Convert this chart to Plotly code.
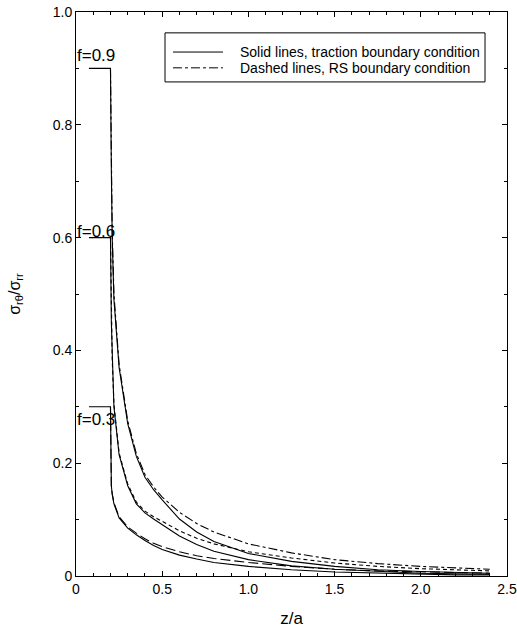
import plotly.graph_objects as go

# ---- data ----
x_common = [0.2, 0.205, 0.21, 0.22, 0.25, 0.3, 0.35, 0.4, 0.45, 0.5, 0.6, 0.7, 0.8,
            1.0, 1.25, 1.5, 1.75, 2.0, 2.2, 2.4]

f09_traction = [0.9, 0.72, 0.6, 0.49, 0.37, 0.27, 0.212, 0.175, 0.153, 0.135, 0.101, 0.078, 0.061,
                0.040, 0.026, 0.017, 0.011, 0.008, 0.006, 0.005]
f09_rs = [0.9, 0.72, 0.61, 0.5, 0.375, 0.275, 0.217, 0.18, 0.158, 0.140, 0.113, 0.093, 0.078,
          0.057, 0.041, 0.029, 0.022, 0.017, 0.014, 0.012]

f06_traction = [0.6, 0.45, 0.38, 0.3, 0.215, 0.16, 0.128, 0.112, 0.101, 0.091, 0.071, 0.056, 0.044,
                0.029, 0.018, 0.012, 0.008, 0.005, 0.004, 0.003]
f06_rs = [0.6, 0.45, 0.385, 0.305, 0.218, 0.163, 0.131, 0.115, 0.105, 0.097, 0.080, 0.067, 0.057,
          0.043, 0.032, 0.023, 0.017, 0.013, 0.011, 0.009]

f03_traction = [0.3, 0.16, 0.145, 0.128, 0.103, 0.085, 0.073, 0.063, 0.054, 0.047, 0.037, 0.030, 0.024,
                0.017, 0.011, 0.007, 0.005, 0.003, 0.002, 0.002]
f03_rs = [0.3, 0.16, 0.146, 0.13, 0.105, 0.087, 0.076, 0.066, 0.058, 0.052, 0.043, 0.036, 0.031,
          0.024, 0.017, 0.012, 0.009, 0.007, 0.006, 0.005]

f_values = [0.9, 0.6, 0.3]
f_labels = ["f=0.9", "f=0.6", "f=0.3"]
f_label_y = [0.922, 0.611, 0.277]
tab_x = [0.075, 0.2]

x_tickvals = [0, 0.5, 1.0, 1.5, 2.0, 2.5]
x_ticktext = ["0", "0.5", "1.0", "1.5", "2.0", "2.5"]
y_tickvals = [0, 0.2, 0.4, 0.6, 0.8, 1.0]
y_ticktext = ["0", "0.2", "0.4", "0.6", "0.8", "1.0"]

legend_names = ["Solid lines, traction boundary condition",
                "Dashed lines, RS boundary condition"]

FONT = "Arial, Liberation Sans, sans-serif"
DASHDOT = "9px,3px,3px,3px"
SHORTDASH = "4px,3px"
LONGDASH = "10px,4px"

fig = go.Figure()

solid = [f09_traction, f06_traction, f03_traction]
dashed = [f09_rs, f06_rs, f03_rs]
dash_styles = [DASHDOT, SHORTDASH, LONGDASH]

for fv, ys in zip(f_values, solid):
    fig.add_trace(go.Scatter(x=tab_x + x_common, y=[fv, fv] + ys, mode="lines",
                             line=dict(color="black", width=1.1), showlegend=False))
for ys, ds in zip(dashed, dash_styles):
    fig.add_trace(go.Scatter(x=x_common, y=ys, mode="lines",
                             line=dict(color="black", width=1.1, dash=ds), showlegend=False))

for lab, ly in zip(f_labels, f_label_y):
    fig.add_annotation(x=0.0, y=ly, text=lab, showarrow=False, xanchor="left",
                       yanchor="middle", xshift=-1,
                       font=dict(family=FONT, size=17, color="black"))

# legend box drawn in paper coordinates
leg_box = dict(x0=0.2065, x1=0.949, y0=0.876, y1=0.963)
leg_rows_y = [0.929, 0.901]
leg_sample_x = [0.225, 0.341]
leg_text_x = 0.376
leg_dashes = ["solid", DASHDOT]

fig.add_shape(type="rect", xref="paper", yref="paper", **leg_box,
              line=dict(color="black", width=1), fillcolor="white", layer="above")
for ry, nm, ds in zip(leg_rows_y, legend_names, leg_dashes):
    fig.add_shape(type="line", xref="paper", yref="paper",
                  x0=leg_sample_x[0], x1=leg_sample_x[1], y0=ry, y1=ry,
                  line=dict(color="black", width=1, dash=ds), layer="above")
    fig.add_annotation(xref="paper", yref="paper", x=leg_text_x, y=ry, text=nm,
                       showarrow=False, xanchor="left", yanchor="middle",
                       font=dict(family=FONT, size=14, color="black"))

axis_common = dict(showgrid=False, zeroline=False, showline=True, linecolor="black",
                   linewidth=1, mirror="allticks", ticks="inside", ticklen=5,
                   tickcolor="black", automargin=False,
                   tickfont=dict(family=FONT, size=14, color="black"))

fig.update_xaxes(range=[0, 2.5], tickvals=x_tickvals, ticktext=x_ticktext,
                 minor=dict(dtick=0.1, ticks="inside", ticklen=3, tickcolor="black"),
                 title=dict(text="z/a", font=dict(family=FONT, size=17, color="black"), standoff=16),
                 **axis_common)
fig.update_yaxes(range=[0, 1.0], tickvals=y_tickvals, ticktext=y_ticktext,
                 minor=dict(dtick=0.1, ticks="inside", ticklen=3, tickcolor="black"),
                 title=dict(text="σ<sub>rθ</sub>/σ<sub>rr</sub>",
                            font=dict(family=FONT, size=16, color="black"), standoff=28),
                 **axis_common)

fig.update_layout(
    width=517, height=630,
    margin=dict(l=76, r=10, t=12, b=54),
    paper_bgcolor="white", plot_bgcolor="white",
    font=dict(family=FONT, color="black"),
    showlegend=False,
)

fig.write_html("out.html", config={"displayModeBar": False},
               post_script="document.body.style.margin='0';")
